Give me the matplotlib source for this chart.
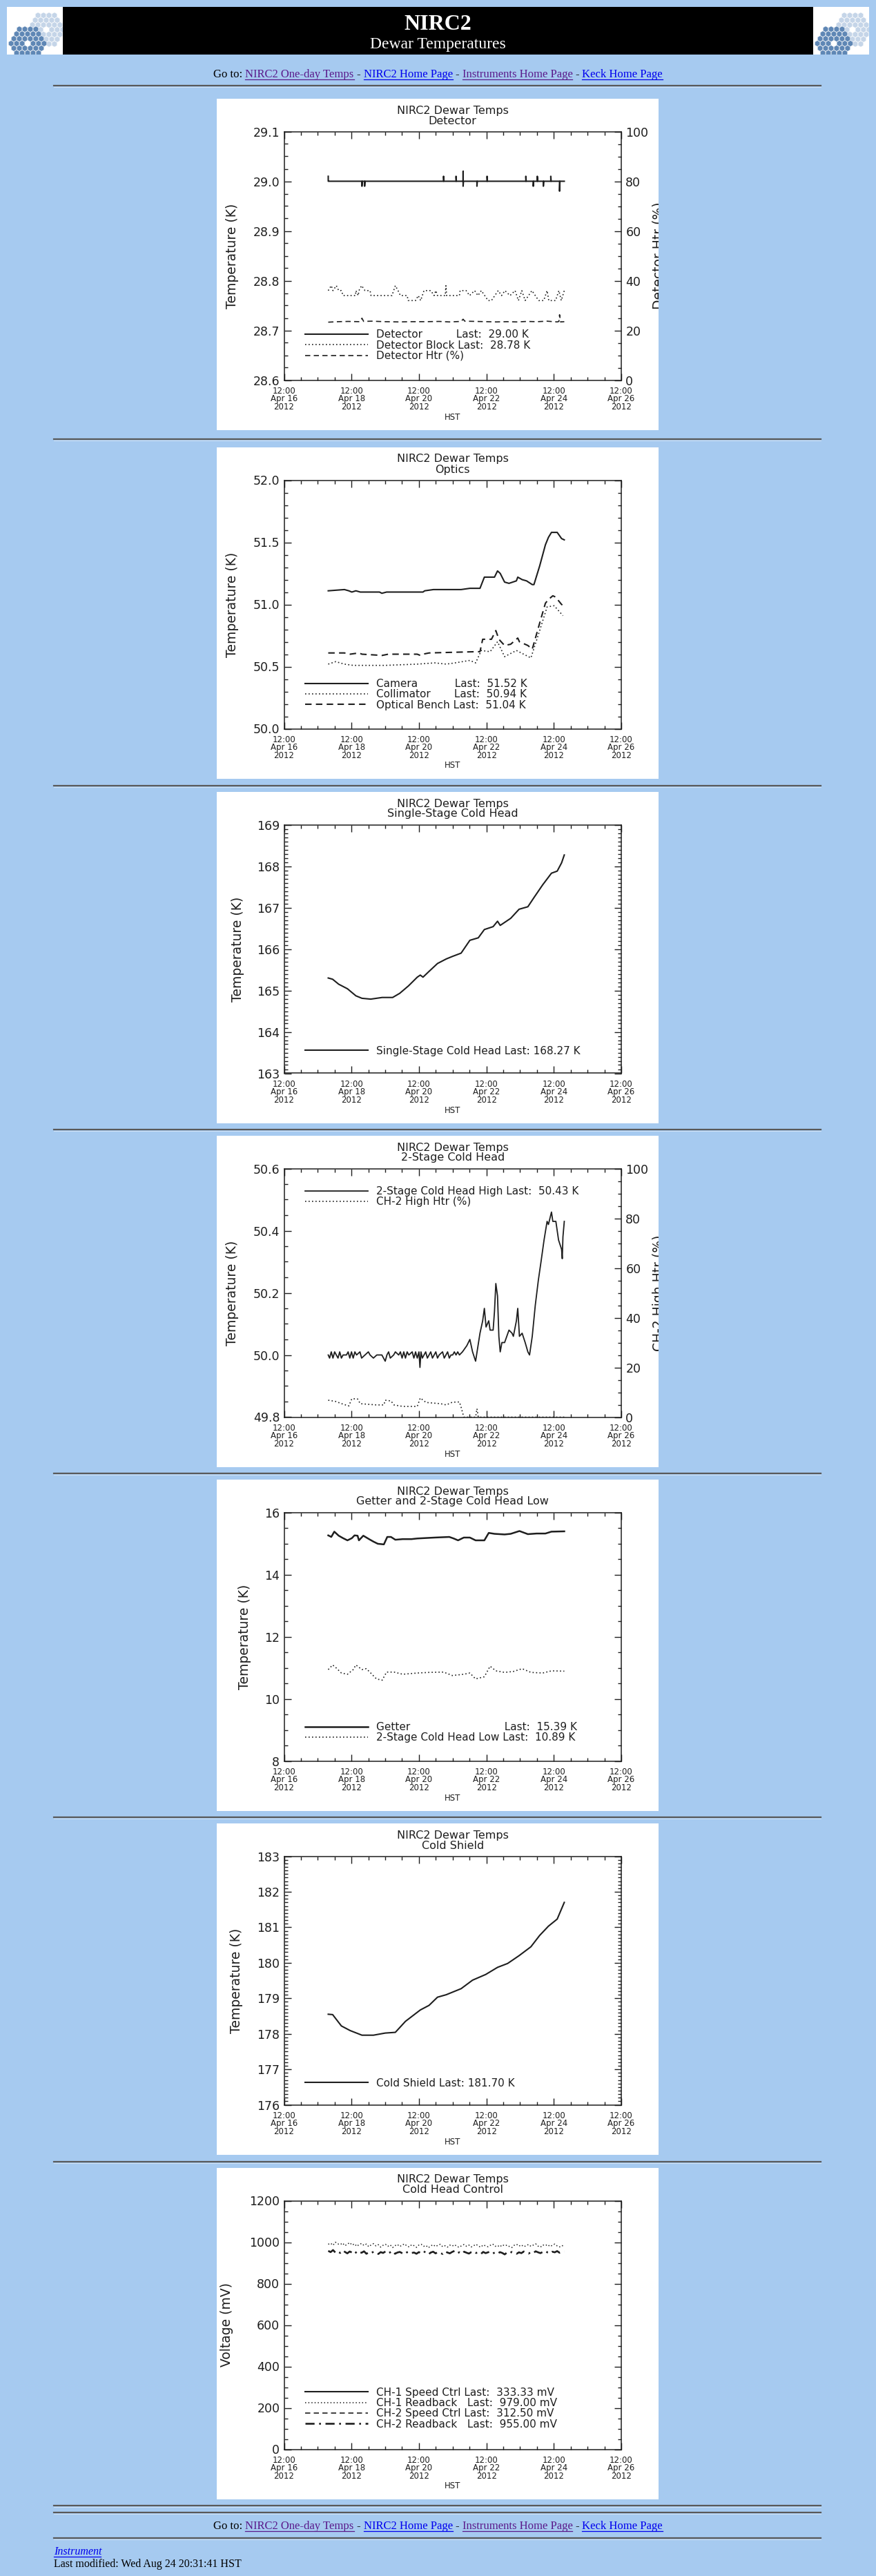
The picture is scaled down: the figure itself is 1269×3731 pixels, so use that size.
import numpy as np
import matplotlib
matplotlib.use('Agg')
import matplotlib.pyplot as plt
from matplotlib.patches import Rectangle, RegularPolygon
from matplotlib.lines import Line2D
from matplotlib.ticker import MultipleLocator, FormatStrFormatter

#%% data  (time = days since 12:00 Apr 16 2012 HST)
day_ticks = [0, 2, 4, 6, 8, 10]
day_labels = ['12:00\nApr 16\n2012', '12:00\nApr 18\n2012', '12:00\nApr 20\n2012',
              '12:00\nApr 22\n2012', '12:00\nApr 24\n2012', '12:00\nApr 26\n2012']

# detector
detector = [(1.31, 29.01), (1.31, 29.00), (1.32, 29.00), (2.31, 29.00), (2.31, 28.99), (2.32, 29.00),
            (2.39, 29.00), (2.39, 28.99), (2.40, 29.00), (4.73, 29.00), (4.73, 29.01), (4.74, 29.00),
            (5.10, 29.00), (5.10, 29.01), (5.11, 29.00), (5.31, 29.00), (5.31, 29.02), (5.31, 28.99),
            (5.32, 29.00), (5.72, 29.00), (5.72, 28.99), (5.73, 29.00), (6.02, 29.00), (6.02, 29.01),
            (6.03, 29.00), (7.17, 29.00), (7.17, 29.01), (7.18, 29.00), (7.39, 29.00), (7.39, 28.99),
            (7.40, 29.00), (7.51, 29.00), (7.51, 29.01), (7.52, 29.00), (7.69, 29.00), (7.69, 28.99),
            (7.70, 29.00), (7.91, 29.00), (7.91, 29.01), (7.92, 29.00), (8.17, 29.00), (8.17, 28.98),
            (8.18, 29.00), (8.31, 29.00)]
det_block = [(1.31, 28.78), (1.40, 28.79), (1.45, 28.78), (1.55, 28.79), (1.62, 28.78), (1.70, 28.78),
             (1.75, 28.77), (2.12, 28.77), (2.13, 28.78), (2.20, 28.77), (2.22, 28.78), (2.30, 28.79),
             (2.40, 28.78), (2.55, 28.78), (2.58, 28.77), (3.20, 28.77), (3.25, 28.78), (3.30, 28.79),
             (3.38, 28.78), (3.45, 28.77), (3.65, 28.77), (3.68, 28.76), (3.90, 28.76), (3.98, 28.77),
             (4.05, 28.76), (4.15, 28.78), (4.35, 28.78), (4.45, 28.77), (4.50, 28.78), (4.55, 28.77),
             (4.78, 28.77), (4.80, 28.79), (4.82, 28.77), (5.20, 28.77), (5.22, 28.78), (5.40, 28.78),
             (5.50, 28.77), (5.65, 28.78), (5.75, 28.77), (5.85, 28.78), (5.95, 28.77), (6.05, 28.76),
             (6.15, 28.76), (6.25, 28.77), (6.35, 28.78), (6.45, 28.77), (6.55, 28.78), (6.70, 28.77),
             (6.85, 28.78), (6.95, 28.76), (7.05, 28.78), (7.15, 28.76), (7.25, 28.77), (7.35, 28.78),
             (7.45, 28.77), (7.55, 28.76), (7.70, 28.76), (7.80, 28.78), (7.85, 28.76), (8.05, 28.76),
             (8.15, 28.78), (8.22, 28.76), (8.31, 28.78)]
det_htr = [(1.31, 23.3), (1.60, 23.5), (1.90, 23.6), (2.25, 23.5), (2.31, 24.9), (2.36, 23.6),
           (2.60, 23.7), (3.00, 23.5), (3.40, 23.4), (3.80, 23.5), (4.20, 23.5), (4.60, 23.6),
           (4.90, 23.4), (5.25, 23.6), (5.31, 24.5), (5.36, 23.7), (5.70, 23.6), (6.00, 23.5),
           (6.30, 23.4), (6.60, 23.5), (6.90, 23.4), (7.20, 23.6), (7.50, 23.5), (7.80, 23.7),
           (8.10, 23.4), (8.15, 23.6), (8.17, 26.3), (8.20, 23.4), (8.31, 23.5)]

# optics
camera = [(1.31, 51.11), (1.79, 51.12), (1.92, 51.11), (2.01, 51.10), (2.13, 51.11), (2.26, 51.10),
          (2.83, 51.10), (2.90, 51.09), (3.04, 51.10), (4.12, 51.10), (4.17, 51.11), (4.43, 51.12),
          (5.25, 51.12), (5.51, 51.13), (5.64, 51.13), (5.81, 51.13), (5.94, 51.22), (6.24, 51.22),
          (6.33, 51.27), (6.41, 51.25), (6.54, 51.18), (6.67, 51.17), (6.89, 51.19), (6.93, 51.22),
          (7.06, 51.20), (7.19, 51.19), (7.36, 51.16), (7.41, 51.16), (7.58, 51.31), (7.75, 51.48),
          (7.84, 51.54), (7.93, 51.58), (8.10, 51.58), (8.23, 51.53), (8.31, 51.52)]
collimator = [(1.31, 50.52), (1.53, 50.54), (1.79, 50.52), (2.05, 50.51), (3.00, 50.51), (3.95, 50.52),
              (4.47, 50.53), (4.81, 50.52), (5.07, 50.53), (5.51, 50.55), (5.68, 50.53), (5.85, 50.63),
              (6.11, 50.62), (6.33, 50.70), (6.54, 50.58), (6.89, 50.63), (7.32, 50.57), (7.58, 50.79),
              (7.80, 50.98), (8.01, 50.99), (8.27, 50.91)]
bench = [(1.31, 50.61), (1.79, 50.61), (1.96, 50.60), (2.22, 50.61), (2.31, 50.60), (2.91, 50.59),
         (3.09, 50.60), (3.95, 50.60), (4.04, 50.59), (4.12, 50.60), (4.30, 50.61), (5.68, 50.62),
         (5.81, 50.62), (5.89, 50.72), (6.15, 50.72), (6.28, 50.79), (6.37, 50.72), (6.54, 50.67),
         (6.72, 50.68), (6.93, 50.73), (6.98, 50.70), (7.23, 50.67), (7.36, 50.64), (7.58, 50.85),
         (7.75, 51.01), (7.84, 51.04), (7.97, 51.07), (8.05, 51.06), (8.23, 51.00), (8.29, 50.99)]

# single-stage cold head
single_stage = [(1.31, 165.30), (1.44, 165.27), (1.62, 165.15), (1.88, 165.04), (2.13, 164.87),
                (2.31, 164.81), (2.57, 164.79), (2.91, 164.83), (3.22, 164.83), (3.43, 164.93),
                (3.69, 165.11), (3.95, 165.32), (4.04, 165.37), (4.12, 165.32), (4.30, 165.46),
                (4.55, 165.65), (4.81, 165.76), (4.99, 165.82), (5.25, 165.90), (5.51, 166.21),
                (5.76, 166.27), (5.94, 166.47), (6.20, 166.54), (6.33, 166.67), (6.41, 166.57),
                (6.72, 166.74), (6.97, 166.96), (7.23, 167.02), (7.41, 167.24), (7.67, 167.55),
                (7.93, 167.83), (8.10, 167.88), (8.23, 168.08), (8.31, 168.27)]

# 2-stage cold head high
ch2_high = [(1.31, 50.00), (1.35, 49.99), (1.40, 50.01), (1.45, 49.99), (1.50, 50.01), (1.55, 50.00),
            (1.60, 49.99), (1.65, 50.01), (1.70, 49.99), (1.75, 50.00), (1.85, 50.00), (1.90, 50.01),
            (1.95, 49.99), (2.00, 50.01), (2.05, 49.99), (2.10, 50.01), (2.15, 50.00), (2.25, 50.01),
            (2.30, 49.99), (2.40, 50.00), (2.50, 50.01), (2.55, 50.00), (2.65, 49.99), (2.75, 50.00),
            (2.90, 50.00), (2.95, 49.99), (3.00, 49.98), (3.05, 50.00), (3.10, 50.01), (3.15, 49.99),
            (3.25, 50.00), (3.30, 50.01), (3.40, 50.00), (3.45, 50.01), (3.50, 49.99), (3.55, 50.01),
            (3.60, 49.99), (3.65, 50.01), (3.70, 50.00), (3.80, 50.01), (3.85, 49.99), (3.90, 50.01),
            (3.95, 49.99), (4.00, 50.01), (4.03, 49.96), (4.06, 50.01), (4.10, 49.99), (4.15, 50.00),
            (4.20, 50.01), (4.25, 49.99), (4.30, 50.00), (4.35, 50.01), (4.40, 49.99), (4.45, 50.00),
            (4.50, 50.01), (4.55, 49.99), (4.60, 50.00), (4.70, 50.01), (4.75, 49.99), (4.80, 50.00),
            (4.85, 50.01), (4.90, 49.99), (4.95, 50.00), (5.00, 50.00), (5.05, 50.01), (5.10, 50.00),
            (5.15, 50.01), (5.20, 50.00), (5.29, 50.01), (5.42, 50.03), (5.51, 50.05), (5.59, 50.01),
            (5.68, 49.98), (5.81, 50.07), (5.89, 50.11), (5.94, 50.15), (5.99, 50.09), (6.07, 50.11),
            (6.11, 50.08), (6.20, 50.08), (6.24, 50.14), (6.28, 50.23), (6.33, 50.19), (6.37, 50.06),
            (6.41, 50.01), (6.46, 50.04), (6.54, 50.04), (6.67, 50.08), (6.76, 50.07), (6.80, 50.06),
            (6.89, 50.11), (6.93, 50.15), (6.98, 50.06), (7.06, 50.07), (7.15, 50.04), (7.23, 50.01),
            (7.28, 50.00), (7.36, 50.06), (7.45, 50.16), (7.54, 50.24), (7.62, 50.30), (7.71, 50.37),
            (7.80, 50.43), (7.84, 50.42), (7.93, 50.46), (7.97, 50.43), (8.06, 50.43), (8.14, 50.37),
            (8.23, 50.34), (8.25, 50.31), (8.27, 50.38), (8.31, 50.43)]
ch2_htr = [(1.31, 6.8), (1.53, 6.3), (1.75, 5.2), (1.92, 4.5), (2.01, 7.4), (2.18, 7.3), (2.26, 5.4),
           (2.74, 4.9), (2.96, 4.9), (3.00, 6.8), (3.17, 6.5), (3.26, 4.9), (3.52, 4.3), (3.95, 4.3),
           (4.04, 7.7), (4.21, 5.9), (4.64, 5.4), (4.81, 4.9), (4.99, 6.0), (5.20, 6.1), (5.25, 4.0),
           (5.33, 0.0), (5.68, 0.0), (5.72, 3.4), (5.76, 0.0), (8.31, 0.0)]

# getter and 2-stage low
getter = [(1.31, 15.26), (1.40, 15.21), (1.49, 15.38), (1.62, 15.25), (1.75, 15.17), (1.88, 15.10),
          (2.01, 15.17), (2.09, 15.26), (2.18, 15.25), (2.22, 15.10), (2.35, 15.25), (2.52, 15.14),
          (2.65, 15.06), (2.78, 14.99), (2.96, 14.97), (3.06, 15.21), (3.17, 15.21), (3.30, 15.12),
          (3.52, 15.14), (3.78, 15.14), (3.95, 15.16), (4.12, 15.17), (4.47, 15.19), (4.90, 15.21),
          (5.03, 15.16), (5.16, 15.10), (5.33, 15.19), (5.51, 15.19), (5.68, 15.10), (5.94, 15.10),
          (6.07, 15.34), (6.24, 15.31), (6.54, 15.29), (6.72, 15.31), (6.98, 15.40), (7.23, 15.30),
          (7.49, 15.32), (7.75, 15.32), (7.93, 15.38), (8.31, 15.39)]
ch2_low = [(1.31, 10.94), (1.44, 11.09), (1.53, 11.01), (1.70, 10.83), (1.88, 10.79), (2.05, 10.94),
           (2.13, 11.09), (2.31, 10.94), (2.44, 10.97), (2.57, 10.83), (2.74, 10.64), (2.91, 10.60),
           (3.04, 10.86), (3.26, 10.86), (3.52, 10.79), (3.95, 10.83), (4.30, 10.85), (4.73, 10.86),
           (4.99, 10.75), (5.33, 10.79), (5.51, 10.83), (5.68, 10.64), (5.94, 10.71), (6.11, 11.05),
           (6.28, 10.90), (6.54, 10.85), (6.80, 10.88), (7.06, 10.97), (7.32, 10.85), (7.67, 10.83),
           (7.93, 10.90), (8.31, 10.89)]

# cold shield
cold_shield = [(1.31, 178.55), (1.44, 178.54), (1.70, 178.22), (1.96, 178.09), (2.31, 177.96),
               (2.65, 177.96), (3.00, 178.02), (3.30, 178.04), (3.60, 178.35), (4.04, 178.67),
               (4.30, 178.80), (4.55, 179.03), (4.81, 179.10), (5.25, 179.27), (5.59, 179.51),
               (5.98, 179.67), (6.33, 179.87), (6.63, 179.98), (6.97, 180.20), (7.32, 180.45),
               (7.58, 180.77), (7.84, 181.03), (8.10, 181.23), (8.31, 181.70)]

# cold head control, readbacks sampled evenly from 1.31 to 8.31 days
ctrl_span = (1.31, 8.31)
ch1_readback = [990, 995, 985, 1000, 992, 988, 996, 983, 990, 998, 986, 992, 980, 989, 994, 984, 991,
                978, 987, 993, 982, 988, 976, 985, 990, 980, 987, 974, 983, 989, 979, 986, 992, 981,
                977, 988, 983, 975, 986, 990, 980, 984, 973, 982, 988, 979, 985, 990, 978, 983, 976,
                986, 981, 988, 979, 975, 984, 989, 980, 986, 977, 983, 990, 981, 976, 987, 982, 978,
                985, 991, 980, 984, 977, 988, 982, 986, 979, 974, 985, 990, 981, 987, 978, 983, 989,
                980, 986, 992, 981, 976, 987, 983, 989, 979, 985, 991, 982, 977, 984, 979]
ch2_readback = [958, 952, 962, 950, 956, 948, 960, 953, 946, 955, 950, 958, 945, 952, 949, 956, 944,
                951, 947, 954, 950, 943, 952, 948, 955, 946, 951, 957, 944, 950, 953, 947, 942, 951,
                955, 948, 950, 944, 952, 947, 956, 949, 941, 950, 954, 946, 952, 948, 943, 955, 950,
                946, 953, 958, 947, 951, 944, 954, 949, 945, 952, 956, 948, 950, 943, 953, 947, 951,
                955, 946, 950, 944, 952, 948, 941, 950, 946, 953, 949, 944, 951, 947, 955, 950, 945,
                952, 948, 956, 951, 947, 953, 958, 950, 946, 954, 951, 957, 949, 955, 955]

#%% page layout helpers
W, H = 1269, 3731
BG = '#A6CAF0'
INK = '#1e1e1e'
VISITED = '#5a1a8b'
LINK = '#0000ee'
PX = 314
PANEL_TOPS = [143, 648, 1147, 1645, 2143, 2641, 3140]
RULES = [124, 636, 1138, 1636, 2134, 2632, 3131, 3629, 3639, 3676]

fig = plt.figure(figsize=(W / 100, H / 100), dpi=100)
fig.patch.set_facecolor(BG)


def frect(x, y, w, h):
    return [x / W, 1 - (y + h) / H, w / W, h / H]


def fy(y):
    return 1 - y / H


def blank_axes(rect, xmax, ymax, color='white'):
    a = fig.add_axes(rect)
    a.set_xlim(0, xmax)
    a.set_ylim(ymax, 0)
    a.set_xticks([])
    a.set_yticks([])
    for s in a.spines.values():
        s.set_visible(False)
    a.set_facecolor(color)
    return a


def rule(y):
    fig.add_artist(Line2D([78 / W, 1189 / W], [fy(y), fy(y)], color='#595959', lw=1.6,
                          transform=fig.transFigure))
    fig.add_artist(Line2D([78 / W, 1189 / W], [fy(y + 1.6), fy(y + 1.6)], color='#d8e6f5', lw=0.6,
                          transform=fig.transFigure))


def logo(x0):
    la = blank_axes(frect(x0, 10, 81, 69), 81, 69)
    s = 4.6
    for cx, cy, col in [(57, 33, '#c5d5e8'), (30, 53, '#5f87b5')]:
        for q in range(-3, 4):
            for r in range(-3, 4):
                if abs(q + r) > 3 or (q == 0 and r == 0):
                    continue
                hx = cx + s * np.sqrt(3) * (q + r / 2)
                hy = cy + s * 1.5 * r
                la.add_patch(RegularPolygon((hx, hy), 6, radius=s * 0.97, orientation=0,
                                            fc=col, ec='white', lw=0.4))


def link_line(y_base):
    pieces = [('Go to:', 'black', False), ('NIRC2 One-day Temps', VISITED, True), ('-', 'black', False),
              ('NIRC2 Home Page', LINK, True), ('-', 'black', False),
              ('Instruments Home Page', VISITED, True), ('-', 'black', False),
              ('Keck Home Page', LINK, True)]
    r = fig.canvas.get_renderer()
    kw = dict(family='Liberation Serif', fontsize=12, va='baseline')
    a = fig.text(0, 0, 'x x', **kw)
    b = fig.text(0, 0, 'xx', **kw)
    sp = a.get_window_extent(r).width - b.get_window_extent(r).width
    a.remove()
    b.remove()
    texts = []
    total = 0
    for s, c, u in pieces:
        t = fig.text(0, fy(y_base), s, color=c, **kw)
        w = t.get_window_extent(r).width
        texts.append((t, w, c, u))
        total += w
    total += sp * (len(pieces) - 1)
    x = W / 2 - total / 2
    for t, w, c, u in texts:
        t.set_x(x / W)
        if u:
            fig.add_artist(Line2D([x / W, (x + w) / W], [fy(y_base + 2.5)] * 2, color=c, lw=0.9,
                                  transform=fig.transFigure))
        x += w + sp


#%% header and footer
fig.add_artist(Rectangle((91 / W, fy(79)), 1087 / W, 69 / H, transform=fig.transFigure,
                         fc='black', ec='none'))
logo(10)
logo(1178)
fig.text(634 / W, fy(43), 'NIRC2', family='Liberation Serif', fontsize=23, weight='bold',
         color='white', ha='center', va='baseline')
fig.text(634 / W, fy(70), 'Dewar Temperatures', family='Liberation Serif', fontsize=17,
         color='white', ha='center', va='baseline')
link_line(112)
link_line(3663)
for y in RULES:
    rule(y)
fig.text(78 / W, fy(3700), 'Instrument', family='Liberation Serif', style='italic', fontsize=11.5,
         color=LINK, va='baseline')
fig.add_artist(Line2D([78 / W, 146 / W], [fy(3703)] * 2, color=LINK, lw=0.9, transform=fig.transFigure))
fig.text(78 / W, fy(3718), 'Last modified: Wed Aug 24 20:31:41 HST', family='Liberation Serif',
         fontsize=11.5, color='black', va='baseline')

#%% plot panels
SOLID = dict(color=INK, lw=1.5, ls='-')
DOT = dict(color=INK, lw=1.2, ls=(0, (1, 2)))
DASH = dict(color=INK, lw=1.2, ls=(0, (4.5, 3)))
DASHDOT = dict(color=INK, lw=1.2, ls=(0, (5, 2.5, 1, 2.5)))


def panel(top, subtitle, ylabel, ylab_x, ylim, major, minor, fmt, twin=None):
    bg = blank_axes(frect(PX, top, 640, 480), 640, 480)
    tk = dict(ha='center', va='center', color=INK, fontsize=11.5)
    bg.text(341.75, 17, 'NIRC2 Dewar Temps', **tk)
    bg.text(341.75, 32, subtitle, **tk)
    bg.text(ylab_x, 227.5, ylabel, rotation=90, ha='center', va='center', color=INK, fontsize=13.5)
    bg.text(341.75, 461, 'HST', ha='center', va='center', color=INK, fontsize=8.5)

    ax = fig.add_axes(frect(PX + 97.5, top + 47.5, 488.5, 360))
    ax.set_xlim(0, 10)
    ax.set_xticks(day_ticks, day_labels, fontsize=8.5, linespacing=0.82, color=INK)
    ax.xaxis.set_minor_locator(MultipleLocator(0.5))
    ax.set_ylim(*ylim)
    ax.yaxis.set_major_locator(MultipleLocator(major))
    ax.yaxis.set_minor_locator(MultipleLocator(minor))
    ax.yaxis.set_major_formatter(FormatStrFormatter(fmt))
    ax.tick_params(which='both', direction='in', top=True, right=twin is None, color=INK,
                   labelcolor=INK, width=1)
    ax.tick_params(which='major', length=7)
    ax.tick_params(which='minor', length=3.5)
    ax.tick_params(axis='y', labelsize=12.5, pad=4.5)
    ax.tick_params(axis='x', pad=7)
    for s in ax.spines.values():
        s.set_linewidth(1.1)
        s.set_color(INK)
    ax2 = None
    if twin is not None:
        ax2 = ax.twinx()
        ax2.set_ylim(0, 100)
        ax2.yaxis.set_major_locator(MultipleLocator(20))
        ax2.yaxis.set_minor_locator(MultipleLocator(5))
        ax2.tick_params(which='both', direction='in', color=INK, labelcolor=INK, width=1,
                        labelsize=12.5, pad=4.5)
        ax2.tick_params(which='major', length=7)
        ax2.tick_params(which='minor', length=3.5)
        for s in ax2.spines.values():
            s.set_visible(False)
        # right-hand label runs past the edge of the plot image, as in the original
        bg.text(640, 227.5, twin, rotation=90, ha='center', va='center', color=INK,
                fontsize=13.5, clip_on=True)
    return ax, ax2


def series(a, pairs, style):
    d = np.array(pairs, dtype=float)
    return a.plot(d[:, 0], d[:, 1], **style)[0]


def legend(ax, handles, labels, yfrac):
    ax.legend(handles, labels, loc='center left', bbox_to_anchor=(0.0624, yfrac), frameon=False,
              fontsize=11, handlelength=5.95, handletextpad=0.78, labelspacing=0.02,
              borderpad=0, borderaxespad=0, labelcolor=INK)


# detector
ax, ax2 = panel(PANEL_TOPS[0], 'Detector', 'Temperature (K)', 23, (28.6, 29.1), 0.1, 0.025, '%.1f',
                twin='Detector Htr (%)')
h1 = series(ax, detector, SOLID)
h2 = series(ax, det_block, DOT)
h3 = series(ax2, det_htr, DASH)
legend(ax, [h1, h2, h3], ['Detector          Last:  29.00 K', 'Detector Block Last:  28.78 K',
                          'Detector Htr (%)'], 0.14)

# optics
ax, _ = panel(PANEL_TOPS[1], 'Optics', 'Temperature (K)', 23, (50.0, 52.0), 0.5, 0.1, '%.1f')
h1 = series(ax, camera, SOLID)
h2 = series(ax, collimator, DOT)
h3 = series(ax, bench, dict(DASH, lw=1.5))
legend(ax, [h1, h2, h3], ['Camera           Last:  51.52 K', 'Collimator       Last:  50.94 K',
                          'Optical Bench Last:  51.04 K'], 0.1375)

# single-stage
ax, _ = panel(PANEL_TOPS[2], 'Single-Stage Cold Head', 'Temperature (K)', 30, (163, 169), 1, 0.1, '%d')
h1 = series(ax, single_stage, SOLID)
legend(ax, [h1], ['Single-Stage Cold Head Last: 168.27 K'], 0.09)

# 2-stage
ax, ax2 = panel(PANEL_TOPS[3], '2-Stage Cold Head', 'Temperature (K)', 23, (49.8, 50.6), 0.2, 0.05,
                '%.1f', twin='CH-2 High Htr (%)')
h1 = series(ax, ch2_high, dict(SOLID, lw=1.3))
h2 = series(ax2, ch2_htr, DOT)
legend(ax, [h1, h2], ['2-Stage Cold Head High Last:  50.43 K', 'CH-2 High Htr (%)'], 0.8875)

# getter
ax, _ = panel(PANEL_TOPS[4], 'Getter and 2-Stage Cold Head Low', 'Temperature (K)', 41, (8, 16), 2,
              0.5, '%d')
h1 = series(ax, getter, dict(SOLID, lw=1.8))
h2 = series(ax, ch2_low, DOT)
legend(ax, [h1, h2], ['Getter                            Last:  15.39 K',
                      '2-Stage Cold Head Low Last:  10.89 K'], 0.115)

# cold shield
ax, _ = panel(PANEL_TOPS[5], 'Cold Shield', 'Temperature (K)', 29, (176, 183), 1, 0.1, '%d')
h1 = series(ax, cold_shield, SOLID)
legend(ax, [h1], ['Cold Shield Last: 181.70 K'], 0.0875)

# cold head control
ax, _ = panel(PANEL_TOPS[6], 'Cold Head Control', 'Voltage (mV)', 15, (0, 1200), 200, 50, '%d')
t1 = np.linspace(ctrl_span[0], ctrl_span[1], len(ch1_readback))
t2 = np.linspace(ctrl_span[0], ctrl_span[1], len(ch2_readback))
h1, = ax.plot([], [], **SOLID)
h2, = ax.plot(t1, ch1_readback, **dict(DOT, lw=1.1))
h3, = ax.plot([], [], **DASH)
h4, = ax.plot(t2, ch2_readback, **dict(DASHDOT, lw=1.9))
legend(ax, [h1, h2, h3, h4], ['CH-1 Speed Ctrl Last:  333.33 mV', 'CH-1 Readback   Last:  979.00 mV',
                              'CH-2 Speed Ctrl Last:  312.50 mV', 'CH-2 Readback   Last:  955.00 mV'],
       0.165)

fig.savefig('out.png', dpi=100, facecolor=BG)
